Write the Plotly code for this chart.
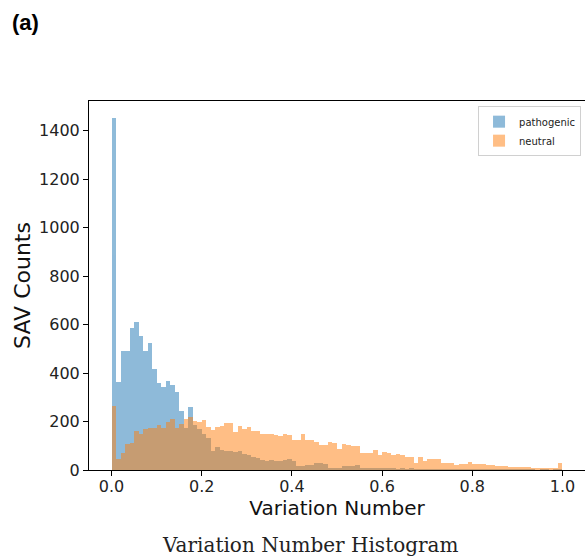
import numpy as np
import plotly.graph_objects as go

# 100 bins of width 0.01 over [0, 1]
bin_edges_start = 0.0
bin_width = 0.01
n_bins = 100

pathogenic_counts = [
    1450, 362, 490, 490, 586, 612, 552, 490, 524, 417,
    359, 344, 368, 352, 320, 244, 175, 258, 185, 171,
    148, 134, 79, 93, 84, 79, 77, 74, 77, 65,
    61, 55, 51, 41, 37, 41, 37, 37, 40, 44,
    37, 17, 18, 20, 20, 28, 30, 23, 10, 10,
    10, 17, 18, 17, 19, 10, 7, 8, 8, 8,
    7, 5, 6, 4, 5, 4, 5, 3, 4, 4,
    3, 3, 4, 3, 3, 2, 3, 2, 2, 3,
    2, 2, 2, 1, 2, 1, 1, 2, 1, 1,
    1, 1, 1, 1, 0, 1, 1, 0, 1, 2,
]

neutral_counts = [
    262, 47, 72, 106, 113, 161, 148, 168, 175, 175,
    185, 175, 196, 212, 175, 189, 210, 217, 203, 199,
    207, 179, 166, 179, 182, 193, 193, 157, 182, 171,
    179, 161, 161, 150, 148, 148, 144, 141, 148, 144,
    124, 124, 148, 124, 124, 116, 102, 102, 116, 113,
    88, 106, 102, 99, 97, 72, 70, 72, 83, 61,
    74, 72, 61, 66, 61, 55, 55, 28, 55, 37,
    44, 46, 46, 30, 30, 28, 19, 23, 23, 33,
    23, 26, 26, 19, 19, 17, 17, 17, 14, 14,
    13, 11, 11, 9, 9, 8, 8, 8, 8, 30,
]

x_ticks = [0.0, 0.2, 0.4, 0.6, 0.8, 1.0]
x_tick_labels = ["0.0", "0.2", "0.4", "0.6", "0.8", "1.0"]
y_ticks = [0, 200, 400, 600, 800, 1000, 1200, 1400]

bin_centers = bin_edges_start + bin_width * (np.arange(n_bins) + 0.5)

fig = go.Figure()
fig.add_trace(go.Bar(
    x=bin_centers, y=pathogenic_counts, width=bin_width,
    name="pathogenic", marker=dict(color="#1f77b4", line=dict(width=0)),
    opacity=0.5,
))
fig.add_trace(go.Bar(
    x=bin_centers, y=neutral_counts, width=bin_width,
    name="neutral", marker=dict(color="#ff7f0e", line=dict(width=0)),
    opacity=0.5,
))

W, H = 585, 557
L, R, T, B = 89, 0, 101, 87
pw = W - L - R
ph = H - T - B

fig.update_layout(
    width=W, height=H,
    margin=dict(l=L, r=R, t=T, b=B),
    barmode="overlay", bargap=0,
    paper_bgcolor="white", plot_bgcolor="white",
    font=dict(family="DejaVu Sans", color="black"),
    showlegend=True,
    legend=dict(
        x=0.992, y=0.986, xanchor="right", yanchor="top",
        bgcolor="white", bordercolor="#d0d0d0", borderwidth=1,
        font=dict(size=10, family="DejaVu Sans", color="#222"),
        itemwidth=30, tracegroupgap=0,
    ),
    xaxis=dict(
        range=[-0.05, 1.05],
        tickmode="array", tickvals=x_ticks, ticktext=x_tick_labels,
        ticks="outside", ticklen=5, tickwidth=1, tickcolor="black",
        ticklabelstandoff=-3,
        tickfont=dict(size=16, family="DejaVu Sans", color="#222"),
        showline=True, linecolor="black", linewidth=1, mirror=True,
        showgrid=False, zeroline=False,
        title=dict(text="Variation Number", font=dict(size=20, family="DejaVu Sans", color="#111"), standoff=2),
    ),
    yaxis=dict(
        range=[0, 1522],
        tickmode="array", tickvals=y_ticks,
        ticks="outside", ticklen=5, tickwidth=1, tickcolor="black",
        tickfont=dict(size=16, family="DejaVu Sans", color="#222"),
        showline=True, linecolor="black", linewidth=1, mirror=True,
        showgrid=False, zeroline=False,
        title=dict(text="SAV Counts", font=dict(size=22, family="DejaVu Sans", color="#111"), standoff=2),
    ),
)

fig.add_annotation(
    text="Variation Number Histogram", xref="paper", yref="paper",
    x=(310 - L) / pw, y=-(545 - 470) / ph, xanchor="center", yanchor="middle",
    showarrow=False, font=dict(size=20, family="DejaVu Serif", color="#222"),
)
fig.add_annotation(
    text="<b>(a)</b>", xref="paper", yref="paper",
    x=-(L - 10) / pw, y=1 + (T - 23) / ph, xanchor="left", yanchor="middle",
    showarrow=False, font=dict(size=22, family="Liberation Sans", color="black"),
)

fig.write_html("out.html")
